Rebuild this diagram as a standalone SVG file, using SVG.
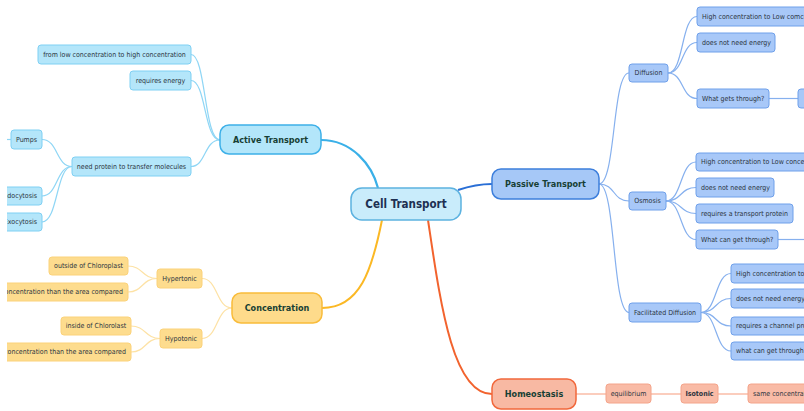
<svg xmlns="http://www.w3.org/2000/svg" width="804" height="411" viewBox="0 0 804 411">
<style>
text{font-family:"DejaVu Sans Condensed","DejaVu Sans",sans-serif;font-stretch:condensed;dominant-baseline:central}
.c{font-size:7px;fill:#2b3440}
.m{font-size:9px;font-weight:bold;fill:#173f34}
.mid{text-anchor:middle}
.end{text-anchor:end}
.ab{fill:#b4e6fa;stroke:#7fd0f3;stroke-width:1}
.pb{fill:#a8c8f8;stroke:#6fa0ea;stroke-width:1}
.cb{fill:#fddc8e;stroke:#fbd27a;stroke-width:1}
.hb{fill:#f9bba6;stroke:#f4a48a;stroke-width:1}
.al{fill:none;stroke:#8fd6f5;stroke-width:1.2}
.pl{fill:none;stroke:#86b0ee;stroke-width:1.2}
.cl{fill:none;stroke:#fde2a5;stroke-width:1.2}
.hl{fill:none;stroke:#fbcdbd;stroke-width:2}
</style>
<defs>
<clipPath id="view"><rect x="7" y="0" width="797" height="411"/></clipPath>
</defs>
<g clip-path="url(#view)">
<g id="connectors">
<path d="M321,140 C352,140 372,165 378,188" fill="none" stroke="#3ab0e8" stroke-width="2.2"/>
<path d="M458,190 C470,186 478,184 492,184" fill="none" stroke="#2a6fd6" stroke-width="2.2"/>
<path d="M382,220 C372,270 360,308 322,308" fill="none" stroke="#fbb824" stroke-width="2"/>
<path d="M428,220 C440,300 452,394 492,394" fill="none" stroke="#f2632e" stroke-width="2"/>
<path class="al" d="M220,140 C204,140 206,54.5 191,54.5"/>
<path class="al" d="M220,140 C204,140 206,80.5 191,80.5"/>
<path class="al" d="M220,140 C204,140 206,166.5 191,166.5"/>
<path class="al" d="M72,166.5 C56,166.5 58,139.5 42,139.5"/>
<path class="al" d="M72,166.5 C56,166.5 58,196 42,196"/>
<path class="al" d="M72,166.5 C56,166.5 58,222 42,222"/>
<path class="al" d="M0,139.5 L11,139.5"/>
<path class="pl" d="M599,184 C616,184 612,73 629,73"/>
<path class="pl" d="M599,184 C616,184 612,201 629,201"/>
<path class="pl" d="M599,184 C616,184 612,312.5 629,312.5"/>
<path class="pl" d="M668,73 C684,73 681,16.5 697,16.5"/>
<path class="pl" d="M668,73 C684,73 681,42.5 697,42.5"/>
<path class="pl" d="M668,73 C684,73 681,98.5 697,98.5"/>
<path class="pl" d="M769,98.5 L798,98.5"/>
<path class="pl" d="M666,201 C682,201 680,162 696,162"/>
<path class="pl" d="M666,201 C682,201 680,187.5 696,187.5"/>
<path class="pl" d="M666,201 C682,201 680,213.5 696,213.5"/>
<path class="pl" d="M666,201 C682,201 680,239.5 696,239.5"/>
<path class="pl" d="M778,239.5 L806,239.5"/>
<path class="pl" d="M701,312.5 C717,312.5 715,273.5 731,273.5"/>
<path class="pl" d="M701,312.5 C717,312.5 715,298.5 731,298.5"/>
<path class="pl" d="M701,312.5 C717,312.5 715,326 731,326"/>
<path class="pl" d="M701,312.5 C717,312.5 715,351 731,351"/>
<path class="cl" d="M232,308 C216,308 218,278.5 202,278.5"/>
<path class="cl" d="M232,308 C216,308 218,338.5 202,338.5"/>
<path class="cl" d="M157,278.5 C142,278.5 143,266 128,266"/>
<path class="cl" d="M157,278.5 C142,278.5 143,292 128,292"/>
<path class="cl" d="M160,338.5 C145,338.5 146,326 131,326"/>
<path class="cl" d="M160,338.5 C145,338.5 146,352 131,352"/>
<path class="hl" d="M576,394 L606,394 M651,394 L681,394 M718,394 L748,394"/>
</g>
<g id="cell-transport"><rect x="351" y="188" width="110" height="32" rx="11" fill="#c9ecfb" stroke="#5cb2e0" stroke-width="1.5"/><text x="406" y="204" class="mid" style="font-size:11.5px;font-weight:bold;fill:#1d3052">Cell Transport</text></g>
<g id="active-transport"><rect x="220" y="125" width="101" height="29" rx="9" fill="#b3e6fa" stroke="#3eb0e8" stroke-width="1.5"/><text x="270.5" y="139.5" class="m mid">Active Transport</text></g>
<g id="passive-transport"><rect x="492" y="169" width="107" height="30" rx="9" fill="#a6c8f7" stroke="#3d7fdc" stroke-width="1.5"/><text x="545.5" y="184" class="m mid">Passive Transport</text></g>
<g id="concentration"><rect x="232" y="293" width="90" height="30" rx="9" fill="#fedb8b" stroke="#f9bc3a" stroke-width="1.5"/><text x="277" y="308" class="m mid">Concentration</text></g>
<g id="homeostasis"><rect x="492" y="379" width="84" height="30" rx="9" fill="#f8b9a3" stroke="#f1683c" stroke-width="1.5"/><text x="534" y="394" class="m mid">Homeostasis</text></g>

<g id="a-from-low"><rect class="ab" x="38" y="45" width="153" height="19" rx="3"/><text class="c mid" x="114.5" y="54.5">from low concentration to high concentration</text></g>
<g id="a-requires-energy"><rect class="ab" x="130" y="71" width="61" height="19" rx="3"/><text class="c mid" x="160.5" y="80.5">requires energy</text></g>
<g id="a-need-protein"><rect class="ab" x="72" y="157" width="119" height="19" rx="3"/><text class="c mid" x="131.5" y="166.5">need protein to transfer molecules</text></g>
<g id="a-pumps"><rect class="ab" x="11" y="130" width="31" height="19" rx="3"/><text class="c mid" x="26.5" y="139.5">Pumps</text></g>
<g id="a-endocytosis"><rect class="ab" x="-30" y="187" width="72" height="18" rx="3"/><text class="c end" x="37" y="196">Endocytosis</text></g>
<g id="a-exocytosis"><rect class="ab" x="-30" y="213" width="72" height="18" rx="3"/><text class="c end" x="37" y="222">Exocytosis</text></g>

<g id="c-hypertonic"><rect class="cb" x="157" y="269" width="45" height="19" rx="3"/><text class="c mid" x="179.5" y="278.5">Hypertonic</text></g>
<g id="c-hypotonic"><rect class="cb" x="160" y="329" width="42" height="19" rx="3"/><text class="c mid" x="181" y="338.5">Hypotonic</text></g>
<g id="c-outside"><rect class="cb" x="49" y="257" width="79" height="18" rx="3"/><text class="c mid" x="88.5" y="266">outside of Chloroplast</text></g>
<g id="c-higher"><rect class="cb" x="-80" y="283" width="208" height="18" rx="3"/><text class="c end" x="123" y="292">Higher concentration than the area compared</text></g>
<g id="c-inside"><rect class="cb" x="61" y="317" width="70" height="18" rx="3"/><text class="c mid" x="96" y="326">inside of Chlorolast</text></g>
<g id="c-lower"><rect class="cb" x="-80" y="343" width="211" height="18" rx="3"/><text class="c end" x="126" y="352">Lower concentration than the area compared</text></g>

<g id="p-diffusion"><rect class="pb" x="629" y="64" width="39" height="18" rx="3"/><text class="c mid" x="648.5" y="73">Diffusion</text></g>
<g id="d-high"><rect class="pb" x="697" y="7" width="140" height="19" rx="3"/><text class="c" x="702" y="16.5">High concentration to Low comcentration</text></g>
<g id="d-energy"><rect class="pb" x="697" y="33" width="78" height="19" rx="3"/><text class="c" x="702" y="42.5">does not need energy</text></g>
<g id="d-what"><rect class="pb" x="697" y="89" width="72" height="19" rx="3"/><text class="c" x="702" y="98.5">What gets through?</text></g>
<g id="d-what-child"><rect class="pb" x="798" y="89" width="30" height="19" rx="3"/></g>

<g id="p-osmosis"><rect class="pb" x="629" y="192" width="37" height="18" rx="3"/><text class="c mid" x="647.5" y="201">Osmosis</text></g>
<g id="o-high"><rect class="pb" x="696" y="153" width="140" height="18" rx="3"/><text class="c" x="701" y="162">High concentration to Low concentration</text></g>
<g id="o-energy"><rect class="pb" x="696" y="178" width="78" height="19" rx="3"/><text class="c" x="701" y="187.5">does not need energy</text></g>
<g id="o-protein"><rect class="pb" x="696" y="204" width="97" height="19" rx="3"/><text class="c" x="701" y="213.5">requires a transport protein</text></g>
<g id="o-what"><rect class="pb" x="696" y="230" width="82" height="19" rx="3"/><text class="c" x="701" y="239.5">What can get through?</text></g>

<g id="p-facilitated"><rect class="pb" x="629" y="303" width="72" height="19" rx="3"/><text class="c mid" x="665" y="312.5">Facilitated Diffusion</text></g>
<g id="f-high"><rect class="pb" x="731" y="264" width="140" height="19" rx="3"/><text class="c" x="736" y="273.5">High concentration to Low concentration</text></g>
<g id="f-energy"><rect class="pb" x="731" y="289" width="77" height="19" rx="3"/><text class="c" x="736" y="298.5">does not need energy</text></g>
<g id="f-protein"><rect class="pb" x="731" y="317" width="100" height="18" rx="3"/><text class="c" x="736" y="326">requires a channel protein</text></g>
<g id="f-what"><rect class="pb" x="731" y="342" width="85" height="18" rx="3"/><text class="c" x="736" y="351">what can get through?</text></g>

<g id="h-equilibrium"><rect class="hb" x="606" y="384" width="45" height="19" rx="3"/><text class="c mid" x="628.5" y="393.5">equilibrium</text></g>
<g id="h-isotonic"><rect class="hb" x="681" y="384" width="37" height="19" rx="3"/><text class="c mid" x="699.5" y="393.5" font-weight="bold">Isotonic</text></g>
<g id="h-same"><rect class="hb" x="748" y="384" width="90" height="19" rx="3"/><text class="c" x="753" y="393.5">same concentration</text></g>
</g>
</svg>
